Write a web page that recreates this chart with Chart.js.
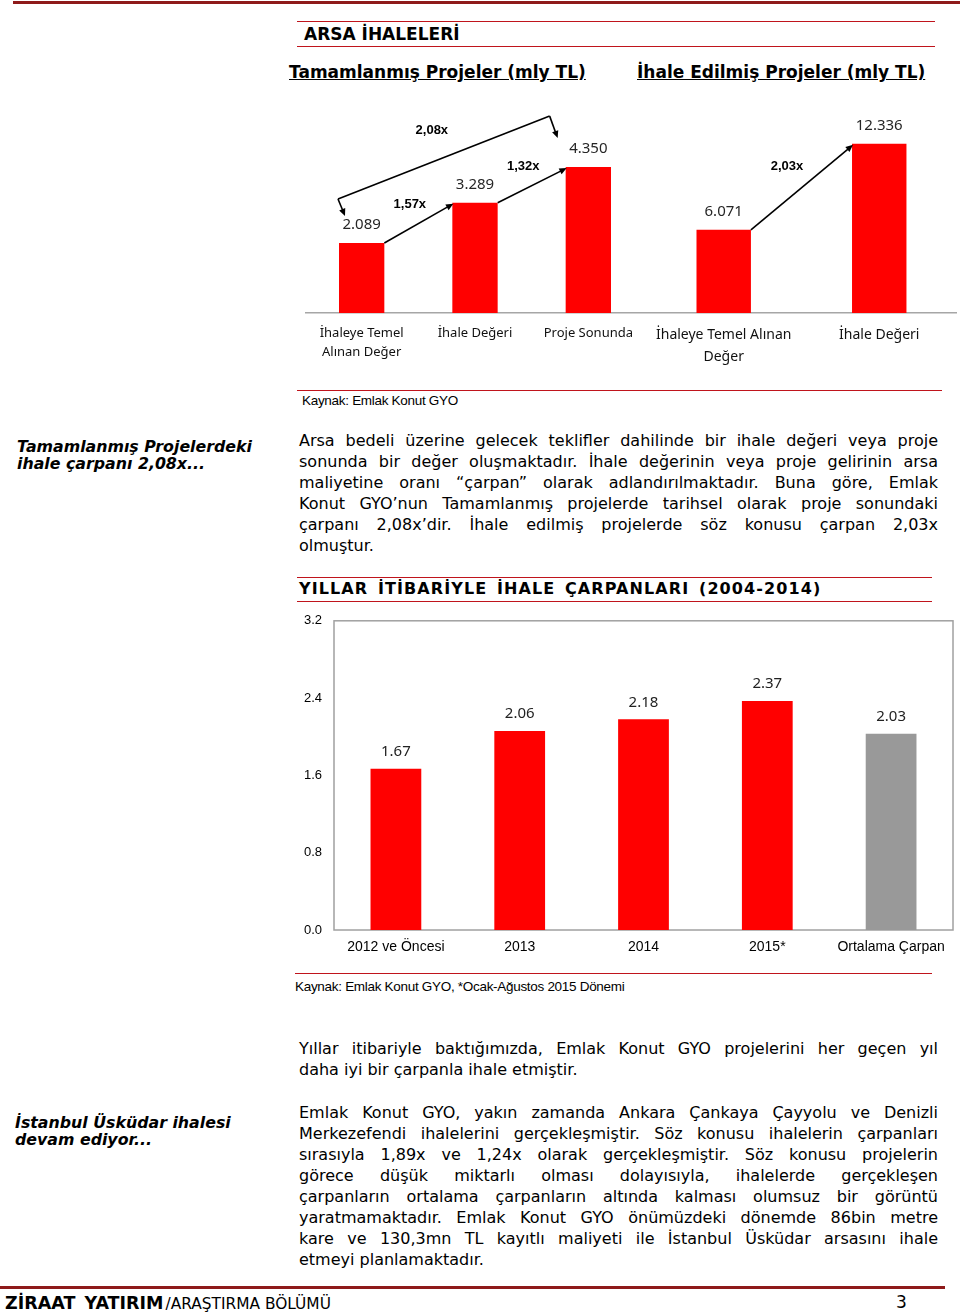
<!DOCTYPE html>
<html lang="tr">
<head>
<meta charset="utf-8">
<script src="https://cdn.jsdelivr.net/npm/chart.js@4/dist/chart.umd.min.js"></script>
<style>
  html, body { margin: 0; padding: 0; background: #fff; }
  body { width: 960px; height: 1313px; position: relative; overflow: hidden; color: #000; }
  .abs { position: absolute; }
  .rule { position: absolute; height: 0; border-top: 1.5px solid #c0141c; }
  .thick { border-top: 3px solid #8e1a1a; }
  .head { font-family: "DejaVu Sans", Verdana, sans-serif; font-weight: bold; white-space: nowrap; }
  .sub { font-family: "DejaVu Sans", Verdana, sans-serif; font-weight: bold; font-size: 17px; text-decoration: underline; white-space: nowrap; }
  .side { font-family: "DejaVu Sans", Verdana, sans-serif; font-weight: bold; font-style: italic; font-size: 15.8px; line-height: 17px; white-space: nowrap; }
  .src { font-family: "Liberation Sans", Arial, sans-serif; font-size: 13.5px; letter-spacing: -0.3px; white-space: nowrap; }
  .para { font-family: "DejaVu Sans", Verdana, sans-serif; font-size: 16px; width: 639px; left: 299px; }
  .para div { text-align: justify; text-align-last: justify; height: 21px; line-height: 21px; white-space: normal; }
  .para div.l { text-align-last: left; }
  .chartbox { position: absolute; }
</style>
</head>
<body>

<div class="rule thick" style="left:13px; top:1px; width:947px;"></div>
<div class="rule" style="left:297px; top:21px; width:638px;"></div>
<div class="abs head" style="left:304px; top:24px; font-size:17px;">ARSA İHALELERİ</div>
<div class="rule" style="left:297px; top:46px; width:638px;"></div>

<div class="abs sub" style="left:289px; top:62px;">Tamamlanmış Projeler (mly TL)</div>
<div class="abs sub" style="left:637px; top:62px;">İhale Edilmiş Projeler (mly TL)</div>

<div class="chartbox" style="left:305px; top:95px; width:340px; height:290px;"><canvas id="doneChart"></canvas></div>
<div class="chartbox" style="left:645px; top:95px; width:312px; height:290px;"><canvas id="tenderChart"></canvas></div>

<div class="rule" style="left:297px; top:390px; width:645px; border-top-width:1px;"></div>
<div class="abs src" style="left:302px; top:393px;">Kaynak: Emlak Konut GYO</div>

<div class="abs side" style="left:17px; top:438px;">Tamamlanmış Projelerdeki<br>ihale çarpanı 2,08x...</div>
<div class="abs para" style="top:430px;">
  <div>Arsa bedeli üzerine gelecek teklifler dahilinde bir ihale değeri veya proje</div>
  <div>sonunda bir değer oluşmaktadır. İhale değerinin veya proje gelirinin arsa</div>
  <div>maliyetine oranı “çarpan” olarak adlandırılmaktadır. Buna göre, Emlak</div>
  <div>Konut GYO’nun Tamamlanmış projelerde tarihsel olarak proje sonundaki</div>
  <div>çarpanı 2,08x’dir. İhale edilmiş projelerde söz konusu çarpan 2,03x</div>
  <div class="l">olmuştur.</div>
</div>

<div class="rule" style="left:297px; top:577px; width:635px;"></div>
<div class="abs head" style="left:299px; top:579px; font-size:16px; letter-spacing:1.1px; word-spacing:3px;">YILLAR İTİBARİYLE İHALE ÇARPANLARI (2004-2014)</div>
<div class="rule" style="left:297px; top:601px; width:635px;"></div>

<div class="chartbox" style="left:295px; top:601px; width:665px; height:359px;"><canvas id="yearChart"></canvas></div>

<div class="rule" style="left:295px; top:973px; width:637px;"></div>
<div class="abs src" style="left:295px; top:979px;">Kaynak: Emlak Konut GYO, *Ocak-Ağustos 2015 Dönemi</div>

<div class="abs para" style="top:1038px;">
  <div>Yıllar itibariyle baktığımızda, Emlak Konut GYO projelerini her geçen yıl</div>
  <div class="l">daha iyi bir çarpanla ihale etmiştir.</div>
</div>

<div class="abs side" style="left:15px; top:1114px;">İstanbul Üsküdar ihalesi<br>devam ediyor...</div>
<div class="abs para" style="top:1102px;">
  <div>Emlak Konut GYO, yakın zamanda Ankara Çankaya Çayyolu ve Denizli</div>
  <div>Merkezefendi ihalelerini gerçekleşmiştir. Söz konusu ihalelerin çarpanları</div>
  <div>sırasıyla 1,89x ve 1,24x olarak gerçekleşmiştir. Söz konusu projelerin</div>
  <div>görece düşük miktarlı olması dolayısıyla, ihalelerde gerçekleşen</div>
  <div>çarpanların ortalama çarpanların altında kalması olumsuz bir görüntü</div>
  <div>yaratmamaktadır. Emlak Konut GYO önümüzdeki dönemde 86bin metre</div>
  <div>kare ve 130,3mn TL kayıtlı maliyeti ile İstanbul Üsküdar arsasını ihale</div>
  <div class="l">etmeyi planlamaktadır.</div>
</div>

<div class="rule thick" style="left:0px; top:1286px; width:945px;"></div>
<div class="abs" style="left:5px; top:1293px; white-space:nowrap; font-family:'DejaVu Sans',Verdana,sans-serif;">
  <span style="font-weight:bold; font-size:17.5px; word-spacing:3px;">ZİRAAT YATIRIM</span><span style="font-size:15.4px; margin-left:2px;">/ARAŞTIRMA BÖLÜMÜ</span>
</div>
<div class="abs" style="left:896px; top:1292px; font-family:'DejaVu Sans',Verdana,sans-serif; font-size:17px;">3</div>

<script>
// --- data ---
const doneLabels = [["İhaleye Temel", "Alınan Değer"], "İhale Değeri", "Proje Sonunda"];
const doneValues = [2089, 3289, 4350];
const doneSteps = ["1,57x", "1,32x"];
const doneTotal = "2,08x";

const tenderLabels = [["İhaleye Temel Alınan", "Değer"], "İhale Değeri"];
const tenderValues = [6071, 12336];
const tenderStep = "2,03x";

const yearLabels = ["2012 ve Öncesi", "2013", "2014", "2015*", "Ortalama Çarpan"];
const yearValues = [1.67, 2.06, 2.18, 2.37, 2.03];
const yTickValues = [0, 0.8, 1.6, 2.4, 3.2];

const RED = "#ff0000";
const GREY = "#999999";
const AXIS = "#a6a6a6";

function thousands(v){ return String(v).replace(/\B(?=(\d{3})+(?!\d))/g, "."); }

// value labels over bars
const valueLabels = {
  id: "valueLabels",
  afterDatasetsDraw(chart, args, opts){
    const ctx = chart.ctx;
    const meta = chart.getDatasetMeta(0);
    const data = chart.data.datasets[0].data;
    ctx.save();
    ctx.font = opts.font;
    ctx.fillStyle = opts.color || "#222";
    ctx.textAlign = "center";
    ctx.textBaseline = "middle";
    meta.data.forEach((bar, i) => {
      ctx.fillText(opts.format(data[i]), bar.x, bar.y - opts.offset);
    });
    ctx.restore();
  }
};

function arrow(ctx, x1, y1, x2, y2){
  const a = Math.atan2(y2 - y1, x2 - x1);
  const h = 8;
  ctx.beginPath();
  ctx.moveTo(x1, y1);
  ctx.lineTo(x2 - Math.cos(a) * 5, y2 - Math.sin(a) * 5);
  ctx.stroke();
  ctx.beginPath();
  ctx.moveTo(x2, y2);
  ctx.lineTo(x2 - h * Math.cos(a - 0.42), y2 - h * Math.sin(a - 0.42));
  ctx.lineTo(x2 - h * Math.cos(a + 0.42), y2 - h * Math.sin(a + 0.42));
  ctx.closePath();
  ctx.fill();
}

function boldLabel(ctx, text, x, y){
  ctx.save();
  ctx.font = "bold 13px 'Liberation Sans', Arial, sans-serif";
  ctx.fillStyle = "#000";
  ctx.textAlign = "center";
  ctx.textBaseline = "middle";
  ctx.fillText(text, x, y);
  ctx.restore();
}

// multiplier arrows, built from bar positions
const multArrows = {
  id: "multArrows",
  afterDatasetsDraw(chart, args, opts){
    const ctx = chart.ctx;
    const bars = chart.getDatasetMeta(0).data;
    ctx.save();
    ctx.strokeStyle = "#000";
    ctx.fillStyle = "#000";
    ctx.lineWidth = 1.6;
    for (let i = 0; i < bars.length - 1; i++){
      const a = bars[i], b = bars[i + 1];
      const x1 = a.x + a.width / 2, y1 = a.y;
      const x2 = b.x - b.width / 2 + 1, y2 = b.y + 1;
      arrow(ctx, x1, y1, x2, y2);
      const mx = (x1 + x2) / 2, my = (y1 + y2) / 2;
      boldLabel(ctx, opts.steps[i], mx + opts.dx, my + opts.dy);
    }
    if (opts.total){
      const a = bars[0], c = bars[bars.length - 1];
      const ax = a.x - a.width / 2, cx = c.x - c.width / 2;
      const p1 = [ax - 1, a.y - 44];
      const p2 = [cx - 16, c.y - 51];
      ctx.beginPath();
      ctx.moveTo(p1[0], p1[1]);
      ctx.lineTo(p2[0], p2[1]);
      ctx.stroke();
      arrow(ctx, p1[0], p1[1], ax + 6, a.y - 27);
      arrow(ctx, p2[0], p2[1], cx - 8, c.y - 29);
      boldLabel(ctx, opts.total, (p1[0] + p2[0]) / 2 - 12, (p1[1] + p2[1]) / 2 - 27);
    }
    ctx.restore();
  }
};

// grey frame around the plot area
const plotFrame = {
  id: "plotFrame",
  beforeDatasetsDraw(chart){
    const { ctx, chartArea: ca } = chart;
    ctx.save();
    ctx.strokeStyle = "#a0a0a0";
    ctx.lineWidth = 1.5;
    ctx.strokeRect(ca.left, ca.top, ca.right - ca.left, ca.bottom - ca.top);
    ctx.restore();
  }
};

function topChart(id, labels, values, yMax, barPct, tickFont, lineH, arrowOpts){
  return new Chart(document.getElementById(id), {
    type: "bar",
    data: { labels, datasets: [{ data: values, backgroundColor: RED, barPercentage: barPct, categoryPercentage: 1 }] },
    plugins: [valueLabels, multArrows],
    options: {
      responsive: true,
      maintainAspectRatio: false,
      animation: false,
      layout: { padding: 0 },
      plugins: {
        legend: { display: false },
        tooltip: { enabled: false },
        valueLabels: { font: "15px 'Noto Sans', 'Open Sans', sans-serif", color: "#262626", offset: 18, format: thousands },
        multArrows: arrowOpts
      },
      scales: {
        x: {
          grid: { display: false, drawTicks: false },
          border: { color: AXIS, width: 1.5 },
          ticks: { color: "#111", font: { family: "'Noto Sans', 'Open Sans', sans-serif", size: tickFont, lineHeight: lineH }, padding: 11, maxRotation: 0, autoSkip: false },
          afterFit(scale){ scale.height = 72; }
        },
        y: { display: false, min: 0, max: yMax }
      }
    }
  });
}

topChart("doneChart", doneLabels, doneValues, 6500, 0.4, 13, 1.45,
  { steps: doneSteps, total: doneTotal, dx: -9, dy: -19 });
topChart("tenderChart", tenderLabels, tenderValues, 15900, 0.35, 14, 1.55,
  { steps: [tenderStep], total: null, dx: -15, dy: -21 });

new Chart(document.getElementById("yearChart"), {
  type: "bar",
  data: {
    labels: yearLabels,
    datasets: [{
      data: yearValues,
      backgroundColor: yearValues.map((v, i) => i === yearValues.length - 1 ? GREY : RED),
      barPercentage: 0.41,
      categoryPercentage: 1
    }]
  },
  plugins: [plotFrame, valueLabels],
  options: {
    responsive: true,
    maintainAspectRatio: false,
    animation: false,
    layout: { padding: { top: 0, right: 7, left: 0, bottom: 0 } },
    plugins: {
      legend: { display: false },
      tooltip: { enabled: false },
      valueLabels: { font: "15px 'Noto Sans', 'Open Sans', sans-serif", color: "#222", offset: 17, format: v => v.toFixed(2) }
    },
    scales: {
      x: {
        grid: { display: false, drawTicks: false },
        border: { display: false },
        ticks: { color: "#000", font: { family: "'Liberation Sans', Arial, sans-serif", size: 14 }, padding: 9, maxRotation: 0, autoSkip: false },
        afterFit(scale){ scale.height = 30; }
      },
      y: {
        min: 0,
        max: 3.2,
        grid: { display: false, drawTicks: false },
        border: { display: false },
        afterBuildTicks(scale){ scale.ticks = yTickValues.map(v => ({ value: v })); },
        ticks: { color: "#000", font: { family: "'Liberation Sans', Arial, sans-serif", size: 13 }, padding: 12, callback: v => Number(v).toFixed(1) },
        afterFit(scale){ scale.width = 39; }
      }
    }
  }
});
</script>
</body>
</html>
